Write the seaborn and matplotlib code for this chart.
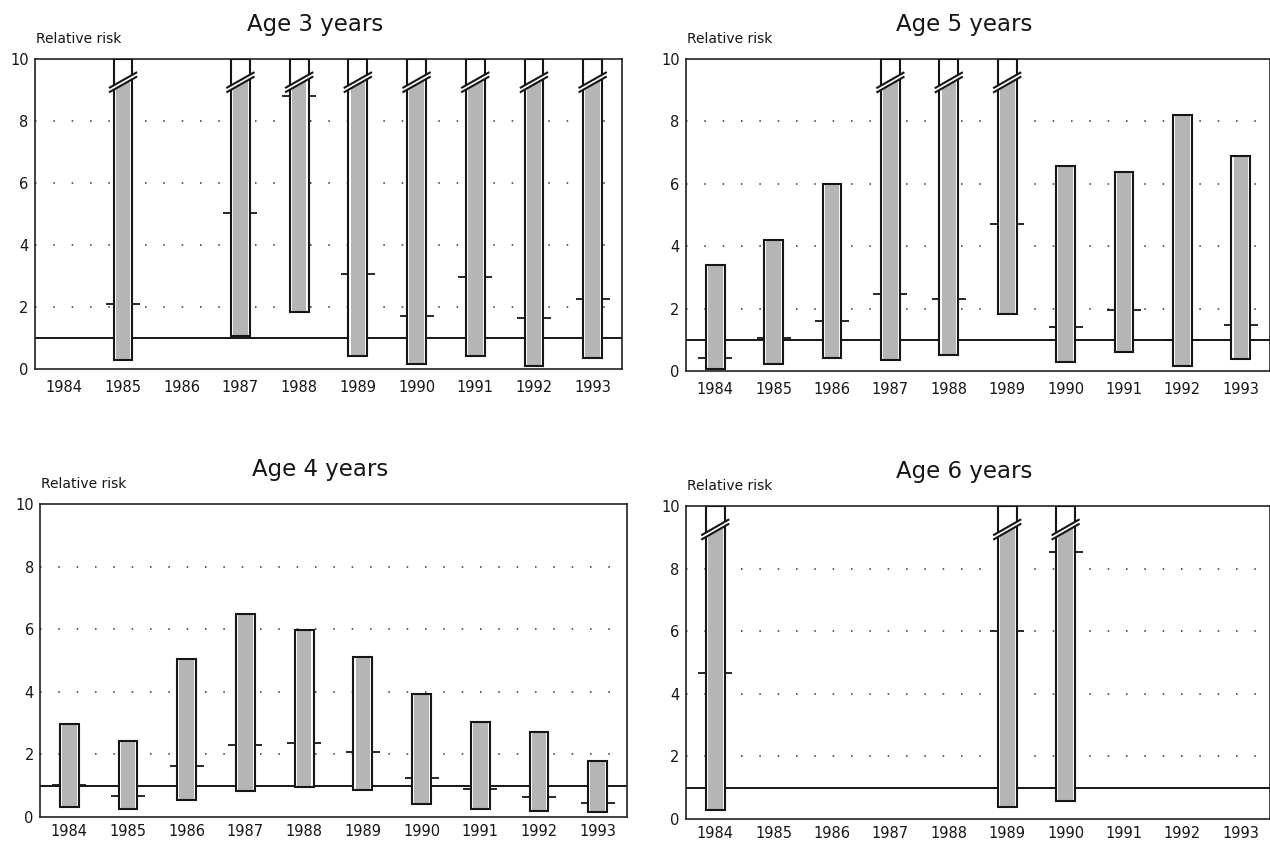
import numpy as np
import pandas as pd
import matplotlib
matplotlib.use("Agg")
import matplotlib.pyplot as plt
import seaborn as sns
from matplotlib.patches import Polygon

inf = np.inf
nan = np.nan

years = [1984, 1985, 1986, 1987, 1988, 1989, 1990, 1991, 1992, 1993]

# Age 3 years (upper = inf : beyond the scale, drawn with a break)
age3_lower = [nan, 0.30, nan, 1.05, 1.83, 0.41, 0.16, 0.43, 0.11, 0.35]
age3_upper = [nan, inf, nan, inf, inf, inf, inf, inf, inf, inf]
age3_est = [nan, 2.10, nan, 5.03, 8.82, 3.05, 1.72, 2.96, 1.65, 2.26]

# Age 5 years
age5_lower = [0.05, 0.24, 0.43, 0.34, 0.51, 1.83, 0.30, 0.61, 0.17, 0.37]
age5_upper = [3.40, 4.20, 5.99, inf, inf, inf, 6.56, 6.39, 8.20, 6.88]
age5_est = [0.43, 1.05, 1.60, 2.48, 2.31, 4.72, 1.41, 1.94, 1.00, 1.46]

# Age 4 years
age4_lower = [0.32, 0.26, 0.55, 0.83, 0.96, 0.87, 0.40, 0.27, 0.19, 0.16]
age4_upper = [2.98, 2.43, 5.06, 6.48, 5.99, 5.12, 3.92, 3.04, 2.71, 1.79]
age4_est = [1.01, 0.68, 1.64, 2.31, 2.37, 2.08, 1.26, 0.88, 0.64, 0.46]

# Age 6 years
age6_lower = [0.29, nan, nan, nan, nan, 0.39, 0.57, nan, nan, nan]
age6_upper = [inf, nan, nan, nan, nan, inf, inf, nan, nan, nan]
age6_est = [4.67, nan, nan, nan, nan, 6.01, 8.53, nan, nan, nan]

titles = ["Age 3 years", "Age 5 years", "Age 4 years", "Age 6 years"]
ylabel = "Relative risk"
yticks = [0, 2, 4, 6, 8, 10]
reference = 1

sns.set_theme(style="white")
plt.rcParams["font.family"] = ["DejaVu Sans"]

W, H = 1270, 842
fig = plt.figure(figsize=(W / 100, H / 100), dpi=100)


def px_axes(left, top, right, bottom):
    return fig.add_axes([left / W, 1 - bottom / H, (right - left) / W, (bottom - top) / H])


boxes = [(35, 59, 622, 369), (686, 59, 1270, 371), (40, 504, 627, 817), (686, 506, 1270, 819)]
xpads = [8, 8, 5, 5]
data = [(age3_lower, age3_upper, age3_est), (age5_lower, age5_upper, age5_est),
        (age4_lower, age4_upper, age4_est), (age6_lower, age6_upper, age6_est)]

BAR_W = 0.32
INNER_W = 0.25
YMAX = 10
INK = "#161616"

for title, box, xpad, (lo, hi, est) in zip(titles, boxes, xpads, data):
    ax = px_axes(*box)
    df = pd.DataFrame({"year": years, "lower": lo, "upper": hi, "est": est})
    df["pos"] = np.arange(len(years))
    df["top"] = df["upper"].clip(upper=YMAX)
    df["broken"] = df["upper"] > YMAX
    v = df.dropna(subset=["lower"])

    for g in yticks[1:-1]:
        ax.axhline(g, color="#333333", lw=1.1, ls=(0, (1, 11)), zorder=1)
    ax.axhline(reference, color=INK, lw=1.4, zorder=1.5)

    ax.hlines(v["est"], v["pos"] - 0.29, v["pos"] + 0.29, color=INK, lw=1.3, zorder=2)

    ax.bar(v["pos"], v["top"] - v["lower"], bottom=v["lower"], width=BAR_W,
           color="white", edgecolor="none", zorder=3)
    ax.bar(v["pos"], v["top"] - v["lower"], bottom=v["lower"], width=INNER_W,
           color="#b5b5b5", edgecolor="none", zorder=3.1)

    yc, k, d, ext = 9.25, 1.07, 0.07, 0.24
    for _, r in v[v["broken"]].iterrows():
        p = r["pos"]
        hw = BAR_W / 2
        ax.add_patch(Polygon([(p - hw, yc - d - k * hw), (p + hw, yc - d + k * hw),
                              (p + hw, YMAX), (p - hw, YMAX)],
                             closed=True, fc="white", ec="none", zorder=3.2))
    ax.bar(v["pos"], v["top"] - v["lower"], bottom=v["lower"], width=BAR_W,
           fill=False, edgecolor=INK, lw=1.5, zorder=3.5)
    for _, r in v[v["broken"]].iterrows():
        p = r["pos"]
        ax.add_patch(Polygon([(p - ext, yc - d - k * ext), (p + ext, yc - d + k * ext),
                              (p + ext, yc + d + k * ext), (p - ext, yc + d - k * ext)],
                             closed=True, fc="white", ec="none", zorder=3.6))
        for s in (-d, d):
            ax.plot([p - ext, p + ext], [yc + s - k * ext, yc + s + k * ext],
                    color=INK, lw=1.5, zorder=3.7, solid_capstyle="butt")

    ax.set_xlim(-0.5, 9.5)
    ax.set_ylim(0, YMAX)
    ax.set_xticks(df["pos"])
    ax.set_xticklabels(years)
    ax.set_yticks(yticks)
    ax.set_yticklabels([str(t) for t in yticks])
    ax.tick_params(axis="both", length=0, labelsize=10.5, colors=INK)
    ax.tick_params(axis="x", pad=xpad)
    ax.tick_params(axis="y", pad=4.5)
    ax.grid(False)
    for sp in ax.spines.values():
        sp.set_visible(True)
        sp.set_color("#222222")
        sp.set_linewidth(1.2)
    ax.set_xlabel("")
    ax.set_ylabel("")

    ax.annotate(title, xy=(0.477, 1), xycoords="axes fraction", xytext=(0, 25),
                textcoords="offset points", ha="center", va="center",
                fontsize=16.5, color=INK)
    ax.annotate(ylabel, xy=(0, 1), xycoords="axes fraction", xytext=(1, 14.5),
                textcoords="offset points", ha="left", va="center",
                fontsize=10, color=INK)

fig.savefig("out.png", dpi=100, facecolor="white")
